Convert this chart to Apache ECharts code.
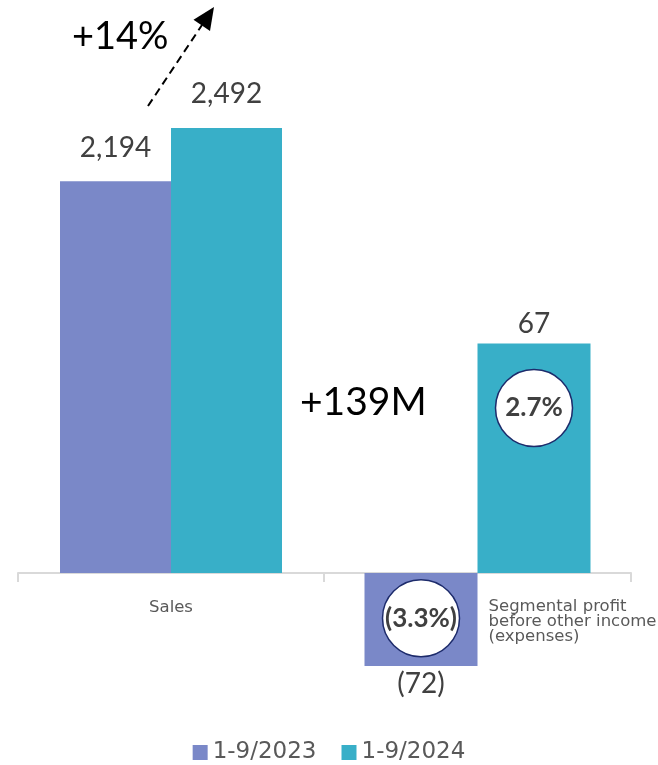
<!DOCTYPE html>
<html>
<head>
<meta charset="utf-8">
<script src="https://cdn.jsdelivr.net/npm/echarts@6/dist/echarts.min.js"></script>
<style>
  html, body { margin: 0; padding: 0; background: #fff; }
  #chart { width: 658px; height: 765px; }
</style>
</head>
<body>
<div id="chart"></div>
<script>
// Nine-month comparison: sales and segmental profit (THB million)
const periods = ['1-9/2023', '1-9/2024'];
const salesCategory = ['Sales'];
const profitCategory = ['Segmental profit\nbefore other income\n(expenses)'];
const sales2023 = [2194];
const sales2024 = [2492];
const profit2023 = [-72];
const profit2024 = [67];
const margin2023 = '(3.3%)';
const margin2024 = '2.7%';
const salesGrowth = '+14%';
const profitChange = '+139M';

const PURPLE = '#7A88C8';
const TEAL = '#38AFC8';
const VALUE_COLOR = '#404040';
const AXIS_COLOR = '#d9d9d9';

const fmtValue = v => v < 0 ? '(' + Math.abs(v).toLocaleString('en-US') + ')' : v.toLocaleString('en-US');

const valueLabel = (pos, dist) => ({
  show: true,
  position: pos,
  distance: dist,
  fontFamily: 'Lato',
  fontSize: 28,
  color: VALUE_COLOR,
  formatter: p => fmtValue(p.value)
});

const marginBubble = (text, coordY) => ({
  symbol: 'circle',
  symbolSize: 77,
  itemStyle: { color: '#ffffff', borderColor: '#1D2B6B', borderWidth: 1.5 },
  label: {
    show: true,
    position: 'inside',
    formatter: text,
    fontFamily: 'Lato',
    fontWeight: 'bold',
    fontSize: 26,
    color: VALUE_COLOR
  },
  data: [{ coord: [0, coordY] }]
});

const xAxisBase = {
  type: 'category',
  axisLine: { show: true, lineStyle: { color: AXIS_COLOR, width: 2 } },
  axisTick: { show: true, length: 9, lineStyle: { color: AXIS_COLOR, width: 2 } },
  splitLine: { show: false }
};

// Category labels sit just under the zero line rather than under the grid's bottom edge
const LABEL_MARGIN = -67;

const chart = echarts.init(document.getElementById('chart'), null, { renderer: 'canvas' });

chart.setOption({
  animation: false,
  backgroundColor: '#ffffff',
  grid: [
    { left: 18, width: 306, top: 128, bottom: 99, outerBoundsMode: 'none' },
    { left: 324, width: 307, top: 128, bottom: 99, outerBoundsMode: 'none' }
  ],
  xAxis: [
    Object.assign({}, xAxisBase, {
      gridIndex: 0,
      data: salesCategory,
      axisLabel: { margin: LABEL_MARGIN, fontFamily: 'DejaVu Sans', fontSize: 16.5, color: '#595959' }
    }),
    Object.assign({}, xAxisBase, {
      gridIndex: 1,
      data: profitCategory,
      axisLabel: {
        margin: LABEL_MARGIN, align: 'left', padding: [0, 0, 0, 11],
        fontFamily: 'DejaVu Sans', fontSize: 16.5, lineHeight: 15, color: '#595959'
      }
    })
  ],
  yAxis: [
    { type: 'value', gridIndex: 0, show: false, min: -520.8, max: 2492 },
    { type: 'value', gridIndex: 1, show: false, min: -72, max: 344.5 },
    { type: 'value', gridIndex: 1, show: false, min: -27.2, max: 130 }
  ],
  legend: {
    data: periods,
    left: 'center',
    top: 736,
    icon: 'rect',
    itemWidth: 15,
    itemHeight: 15,
    itemGap: 25,
    textStyle: { fontFamily: 'DejaVu Sans', fontSize: 23, color: '#595959' }
  },
  series: [
    {
      name: periods[0], type: 'bar', xAxisIndex: 0, yAxisIndex: 0,
      data: sales2023, barWidth: 111, barGap: '0%',
      itemStyle: { color: PURPLE },
      label: valueLabel('top', 19)
    },
    {
      name: periods[1], type: 'bar', xAxisIndex: 0, yAxisIndex: 0,
      data: sales2024, barWidth: 111, barGap: '0%',
      itemStyle: { color: TEAL },
      label: valueLabel('top', 20)
    },
    {
      name: periods[0], type: 'bar', xAxisIndex: 1, yAxisIndex: 1,
      data: profit2023, barWidth: 113, barGap: '0%',
      itemStyle: { color: PURPLE },
      label: valueLabel('bottom', 4),
      markPoint: marginBubble(margin2023, -35)
    },
    {
      name: periods[1], type: 'bar', xAxisIndex: 1, yAxisIndex: 2,
      data: profit2024, barWidth: 113, barGap: '0%',
      itemStyle: { color: TEAL },
      label: valueLabel('top', 6),
      markPoint: marginBubble(margin2024, 48.2)
    }
  ],
  graphic: [
    {
      type: 'text',
      style: {
        x: 72, y: 37, text: salesGrowth,
        font: '38px Lato', fill: '#000000',
        textAlign: 'left', textVerticalAlign: 'middle'
      }
    },
    {
      type: 'text',
      style: {
        x: 300, y: 402, text: profitChange,
        font: '39px Lato', fill: '#000000',
        textAlign: 'left', textVerticalAlign: 'middle'
      }
    },
    {
      type: 'line',
      shape: { x1: 148, y1: 106, x2: 202, y2: 25 },
      style: { stroke: '#000000', lineWidth: 2, lineDash: [8, 5] }
    },
    {
      type: 'polygon',
      shape: { points: [[214, 7], [210, 31], [193.5, 19.8]] },
      style: { fill: '#000000' }
    }
  ]
});
</script>
</body>
</html>
